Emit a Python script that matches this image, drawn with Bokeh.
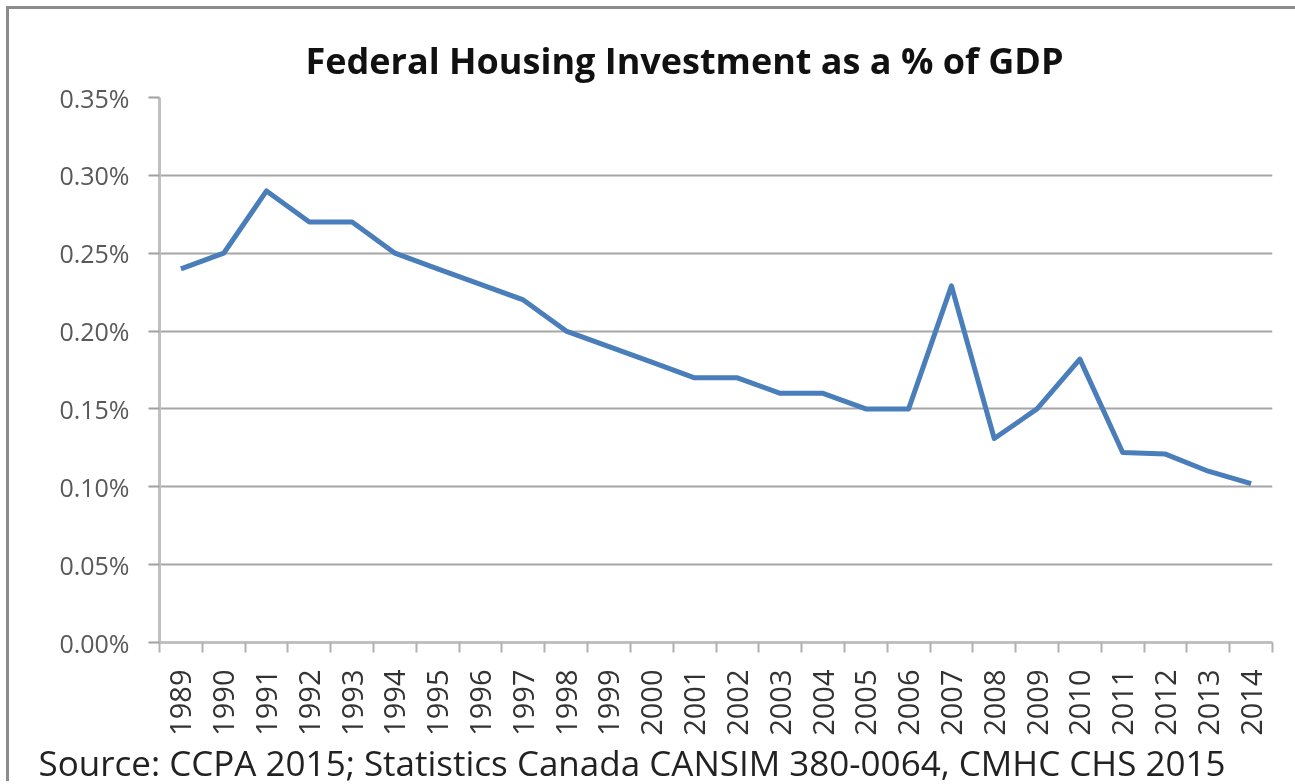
from bokeh.plotting import figure
from bokeh.models import Range1d, FixedTicker, PrintfTickFormatter, Title
from bokeh.embed import file_html
from bokeh.resources import INLINE
import math

# ---- data ----
years = [1989, 1990, 1991, 1992, 1993, 1994, 1995, 1996, 1997, 1998, 1999, 2000, 2001,
         2002, 2003, 2004, 2005, 2006, 2007, 2008, 2009, 2010, 2011, 2012, 2013, 2014]
share_gdp = [0.24, 0.25, 0.29, 0.27, 0.27, 0.25, 0.24, 0.23, 0.22, 0.20, 0.19, 0.18, 0.17,
             0.17, 0.16, 0.16, 0.15, 0.15, 0.229, 0.131, 0.15, 0.182, 0.122, 0.121, 0.11, 0.102]
y_ticks = [0.0, 0.05, 0.10, 0.15, 0.20, 0.25, 0.30, 0.35]
title_text = "Federal Housing Investment as a % of GDP"
source_text = "Source: CCPA 2015; Statistics Canada CANSIM 380-0064, CMHC CHS 2015"

FONT = "Open Sans"

p = figure(width=1320, height=775, output_backend="svg", toolbar_location=None,
           x_range=Range1d(years[0] - 0.5, years[-1] + 0.5),
           y_range=Range1d(0, 0.35),
           min_border_left=150, min_border_right=57, min_border_top=88, min_border_bottom=142)
p.styles = {"position": "fixed", "left": "9px", "top": "9px",
            "box-shadow": "-3px -3px 0px 0px #8c8c8c"}

p.outline_line_color = None
p.background_fill_color = "white"
p.border_fill_color = "white"

p.line(years, share_gdp, line_color="#4a7ebb", line_width=5, line_join="round")

# y axis
p.yaxis.ticker = FixedTicker(ticks=y_ticks)
p.yaxis.formatter = PrintfTickFormatter(format="%.2f%%")
p.yaxis.axis_line_color = "#c0c0c0"
p.yaxis.axis_line_width = 3
p.yaxis.major_tick_line_color = "#a0a0a0"
p.yaxis.major_tick_line_width = 2
p.yaxis.major_tick_out = 11
p.yaxis.major_tick_in = 0
p.yaxis.minor_tick_line_color = None
p.yaxis.major_label_standoff = 19
p.yaxis.major_label_text_font = FONT
p.yaxis.major_label_text_font_size = "25px"
p.yaxis.major_label_text_color = "#595959"

# x axis
boundaries = [y - 0.5 for y in years] + [years[-1] + 0.5]
p.xaxis.ticker = FixedTicker(ticks=years, minor_ticks=boundaries)
p.xaxis.formatter = PrintfTickFormatter(format="%d")
p.xaxis.axis_line_color = "#c0c0c0"
p.xaxis.axis_line_width = 3
p.xaxis.major_tick_line_color = None
p.xaxis.major_tick_out = 0
p.xaxis.major_tick_in = 0
p.xaxis.minor_tick_line_color = "#b0b0b0"
p.xaxis.minor_tick_line_width = 2
p.xaxis.minor_tick_out = 10
p.xaxis.minor_tick_in = 0
p.xaxis.major_label_orientation = math.pi / 2
p.xaxis.major_label_standoff = 17
p.xaxis.major_label_text_font = FONT
p.xaxis.major_label_text_font_size = "29px"
p.xaxis.major_label_text_color = "#333333"

# grid
p.xgrid.grid_line_color = None
p.ygrid.grid_line_color = "#a6a6a6"
p.ygrid.grid_line_width = 2

# title
p.title = Title(text=title_text, align="left", offset=146, text_font=FONT,
                text_font_size="36px", text_font_style="bold", text_color="#111111",
                standoff=25)

# source note below the axis labels
src = Title(text=source_text, align="left", offset=-121, text_font=FONT,
            text_font_size="35px", text_font_style="normal", text_color="#222222",
            standoff=-4)
p.add_layout(src, "below")

open("out.html", "w").write(file_html(p, INLINE))
